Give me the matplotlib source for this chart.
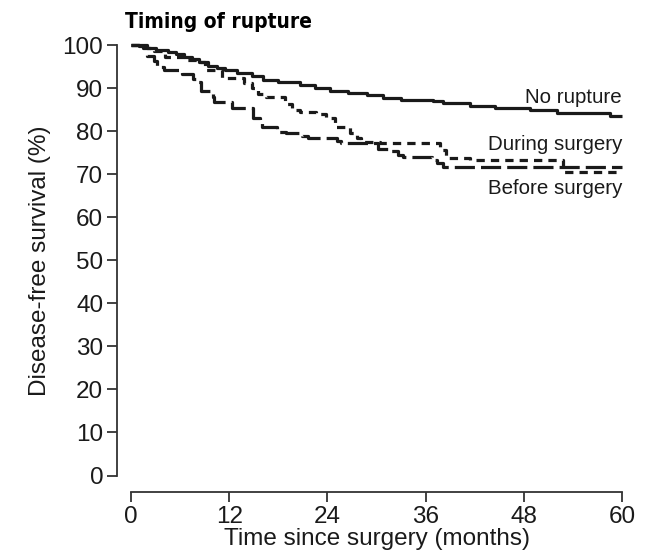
import matplotlib
matplotlib.use("Agg")
import matplotlib.pyplot as plt

# Kaplan-Meier step data: event times (months) and survival (%) after each step
no_rupture_t = [0, 1.0, 2.0, 3.0, 4.5, 5.5, 6.5, 7.4, 8.3, 9.4, 10.5, 11.5, 13.0, 14.8,
                16.1, 18.0, 20.6, 22.5, 24.3, 26.5, 28.8, 30.8, 33.0, 36.9, 38.1, 41.4,
                44.5, 48.8, 52.0, 56.1, 58.5, 60]
no_rupture_s = [100, 99.7, 99.3, 98.9, 98.4, 97.8, 97.3, 96.8, 96.0, 95.2, 94.7, 94.2,
                93.5, 92.8, 91.9, 91.3, 90.7, 89.9, 89.2, 88.8, 88.4, 87.6, 87.3, 87.1,
                86.6, 85.8, 85.4, 84.9, 84.3, 84.1, 83.5, 83.5]

during_t = [0, 1.5, 2.8, 4.2, 6.5, 8.2, 9.0, 11.1, 13.8, 14.8, 15.5, 16.5, 18.8, 19.7,
            20.7, 22.6, 23.8, 24.9, 26.8, 27.6, 28.1, 30.4, 37.8, 38.5, 41.4, 52.8, 60]
during_s = [100, 99.3, 98.6, 97.3, 96.6, 96.0, 94.3, 92.3, 91.1, 90.0, 88.6, 87.9,
            86.3, 85.0, 84.4, 84.0, 83.0, 81.0, 79.6, 78.4, 77.5, 77.2, 75.5, 73.8,
            73.4, 70.4, 70.4]

before_t = [0, 1.9, 2.8, 3.2, 4.0, 6.2, 7.6, 8.2, 8.5, 10.0, 10.2, 12.3, 14.9, 15.8,
            16.0, 17.8, 18.9, 20.9, 21.6, 25.2, 25.7, 30.2, 31.7, 32.6, 33.2, 36.8,
            37.4, 38.1, 60]
before_s = [100, 97.5, 96.3, 95.0, 94.2, 93.3, 92.0, 91.3, 89.3, 88.0, 86.8, 85.4,
            83.0, 81.8, 80.9, 79.9, 79.6, 78.9, 78.4, 77.8, 77.3, 75.8, 75.3, 74.4,
            74.0, 73.3, 72.6, 71.7, 71.7]

curve_labels = ["No rupture", "During surgery", "Before surgery"]
label_y = [87.9, 76.8, 66.6]

x_ticks = [0, 12, 24, 36, 48, 60]
y_ticks = list(range(0, 101, 10))

ink = "#1a1a1a"
plt.rcParams["font.family"] = ["Liberation Sans", "DejaVu Sans"]

fig = plt.figure(figsize=(6.58, 5.57), dpi=100)
ax = fig.add_axes([131 / 658, 81.5 / 557, 491 / 658, 430.5 / 557])

ax.step(no_rupture_t, no_rupture_s, where="post", color=ink, lw=2.3,
        solid_capstyle="butt", clip_on=False)
ax.step(during_t, during_s, where="post", color=ink, lw=2.3,
        dashes=(2.6, 1.9), clip_on=False)
ax.step(before_t, before_s, where="post", color=ink, lw=2.3,
        dashes=(6.3, 1.9), clip_on=False)

for text, yv in zip(curve_labels, label_y):
    ax.text(60, yv, text, ha="right", va="center", fontsize=14.8, color=ink)

ax.set_xlim(0, 60)
ax.set_ylim(0, 100)
ax.set_xticks(x_ticks)
ax.set_yticks(y_ticks)

for side in ("top", "right"):
    ax.spines[side].set_visible(False)
ax.spines["left"].set_position(("outward", 10))
ax.spines["bottom"].set_position(("outward", 12))
for side in ("left", "bottom"):
    ax.spines[side].set_linewidth(1.3)
    ax.spines[side].set_color("#333333")

ax.tick_params(axis="both", direction="out", length=7, width=1.3,
               color="#333333", labelsize=17.5, labelcolor=ink, pad=3)

ax.set_xlabel("Time since surgery (months)", fontsize=17.5, color=ink, labelpad=0)
ax.set_ylabel("Disease-free survival (%)", fontsize=17.5, color=ink, labelpad=8)

fig.text(125 / 658, 1 - 22 / 557, "Timing of rupture", fontsize=15,
         fontweight="bold", color="black", ha="left", va="center",
         family="DejaVu Sans", fontstretch="condensed")

fig.savefig("out.png", dpi=100)
